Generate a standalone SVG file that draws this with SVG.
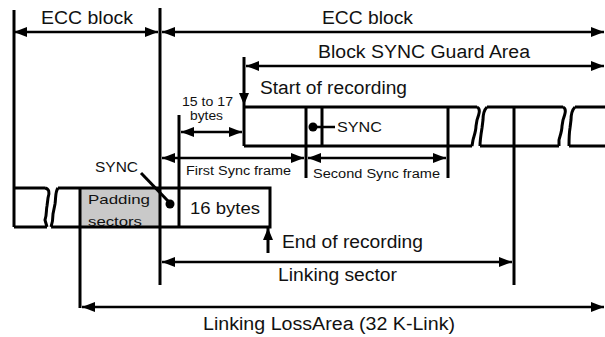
<svg xmlns="http://www.w3.org/2000/svg" width="605" height="337" viewBox="0 0 605 337">
<defs>
<style>
.ln{stroke:#000;stroke-width:3;fill:none}
.ar{stroke:#000;stroke-width:2.6;fill:none;marker-end:url(#ah);marker-start:url(#ah)}
.t{font-family:"Liberation Sans",Arial,sans-serif;fill:#111}
</style>
<marker id="ah" viewBox="0 0 13 10" refX="13" refY="5" markerWidth="13" markerHeight="10" markerUnits="userSpaceOnUse" orient="auto-start-reverse"><path d="M0,0 L13,5 L0,10 z" fill="#000"/></marker>
<marker id="ah1" viewBox="0 0 12 10" refX="12" refY="5" markerWidth="12" markerHeight="10" markerUnits="userSpaceOnUse" orient="auto"><path d="M0,0 L12,5 L0,10 z" fill="#000"/></marker>
</defs>
<rect width="605" height="337" fill="#fff"/>

<g id="lower-box">
<rect x="80" y="188" width="80" height="39" fill="#c9c9c9"/>
<text class="t" x="88" y="204" font-size="13" textLength="62" lengthAdjust="spacingAndGlyphs">Padding</text>
<text class="t" x="88" y="226" font-size="13" textLength="54" lengthAdjust="spacingAndGlyphs">sectors</text>
<path class="ln" d="M14,188 H45 M14,227 H47 M45,188 C49,189 50,192 48,198 L47,206 C46,210 47,214 45,220 L47,227"/>
<path class="ln" d="M58,188 H270 V227 H51 M58,188 C55,192 56,198 55,204 L53,214 C53,220 52,224 51,227"/>
<text class="t" x="190" y="214" font-size="17" textLength="70" lengthAdjust="spacingAndGlyphs">16 bytes</text>
</g>

<g id="upper-box">
<path class="ln" d="M244,107 H477 M244,146 H472 M477,107 C481,109 479,114 477,120 L476,126 C476,131 474,136 473,140 L472,146"/>
<path class="ln" d="M487,107 H563 M480,146 H559 M487,107 C484,110 483,114 483,120 L482,128 C481,134 480,140 480,146 M563,107 C567,109 565,114 563,120 L562,126 C562,131 560,136 559,140 L559,146"/>
<path class="ln" d="M575,107 H605 M569,146 H605 M575,107 C572,110 571,114 571,120 L570,128 C569,134 569,140 569,146"/>
<line class="ln" x1="306" y1="107" x2="306" y2="178"/>
<line class="ln" x1="322" y1="107" x2="322" y2="146"/>
<line class="ln" x1="448" y1="107" x2="448" y2="178"/>
</g>

<g id="boundaries">
<line class="ln" x1="14" y1="10" x2="14" y2="227"/>
<line class="ln" x1="160" y1="8" x2="160" y2="285"/>
<line class="ln" x1="244" y1="57" x2="244" y2="146"/>
<line class="ln" x1="179" y1="115" x2="179" y2="227"/>
<line class="ln" x1="80" y1="188" x2="80" y2="308"/>
<line class="ln" x1="514" y1="107" x2="514" y2="285"/>
</g>

<g id="connectors">
<line class="ar" x1="14" y1="32" x2="158" y2="32"/>
<line class="ar" x1="162" y1="32" x2="604" y2="32"/>
<line class="ar" x1="246" y1="66" x2="604" y2="66"/>
<line class="ar" x1="181" y1="132" x2="242" y2="132"/>
<line class="ar" x1="162" y1="158" x2="304" y2="158"/>
<line class="ar" x1="308" y1="158" x2="446" y2="158"/>
<line class="ar" x1="162" y1="262" x2="512" y2="262"/>
<line class="ar" x1="82" y1="307" x2="604" y2="307"/>
<line stroke="#000" stroke-width="2" x1="244" y1="90" x2="244" y2="105" marker-end="url(#ah1)"/>
<line stroke="#000" stroke-width="3" x1="268" y1="253" x2="268" y2="228" marker-end="url(#ah1)"/>
<line stroke="#000" stroke-width="3" x1="141" y1="173" x2="168" y2="201"/>
<circle cx="170" cy="204" r="4.5" fill="#000"/>
<line stroke="#000" stroke-width="2.5" x1="313" y1="127" x2="335" y2="127"/>
<circle cx="313" cy="127" r="4.5" fill="#000"/>
</g>

<g id="labels">
<text class="t" x="41" y="24" font-size="18" textLength="92" lengthAdjust="spacingAndGlyphs">ECC block</text>
<text class="t" x="322" y="24" font-size="18" textLength="91" lengthAdjust="spacingAndGlyphs">ECC block</text>
<text class="t" x="318" y="58" font-size="18" textLength="212" lengthAdjust="spacingAndGlyphs">Block SYNC Guard Area</text>
<text class="t" x="260" y="94" font-size="18" textLength="147" lengthAdjust="spacingAndGlyphs">Start of recording</text>
<text class="t" x="182" y="106" font-size="12.5" textLength="51" lengthAdjust="spacingAndGlyphs">15 to 17</text>
<text class="t" x="190" y="120" font-size="12.5" textLength="33" lengthAdjust="spacingAndGlyphs">bytes</text>
<text class="t" x="337" y="132" font-size="14" textLength="45" lengthAdjust="spacingAndGlyphs">SYNC</text>
<text class="t" x="186" y="175" font-size="12" textLength="105" lengthAdjust="spacingAndGlyphs">First Sync frame</text>
<text class="t" x="313" y="178" font-size="12" textLength="127" lengthAdjust="spacingAndGlyphs">Second Sync frame</text>
<text class="t" x="95" y="172" font-size="14" textLength="43" lengthAdjust="spacingAndGlyphs">SYNC</text>
<text class="t" x="282" y="248" font-size="18" textLength="141" lengthAdjust="spacingAndGlyphs">End of recording</text>
<text class="t" x="278" y="281" font-size="18" textLength="119" lengthAdjust="spacingAndGlyphs">Linking sector</text>
<text class="t" x="203" y="330" font-size="18" textLength="252" lengthAdjust="spacingAndGlyphs">Linking LossArea (32 K-Link)</text>
</g>
</svg>
